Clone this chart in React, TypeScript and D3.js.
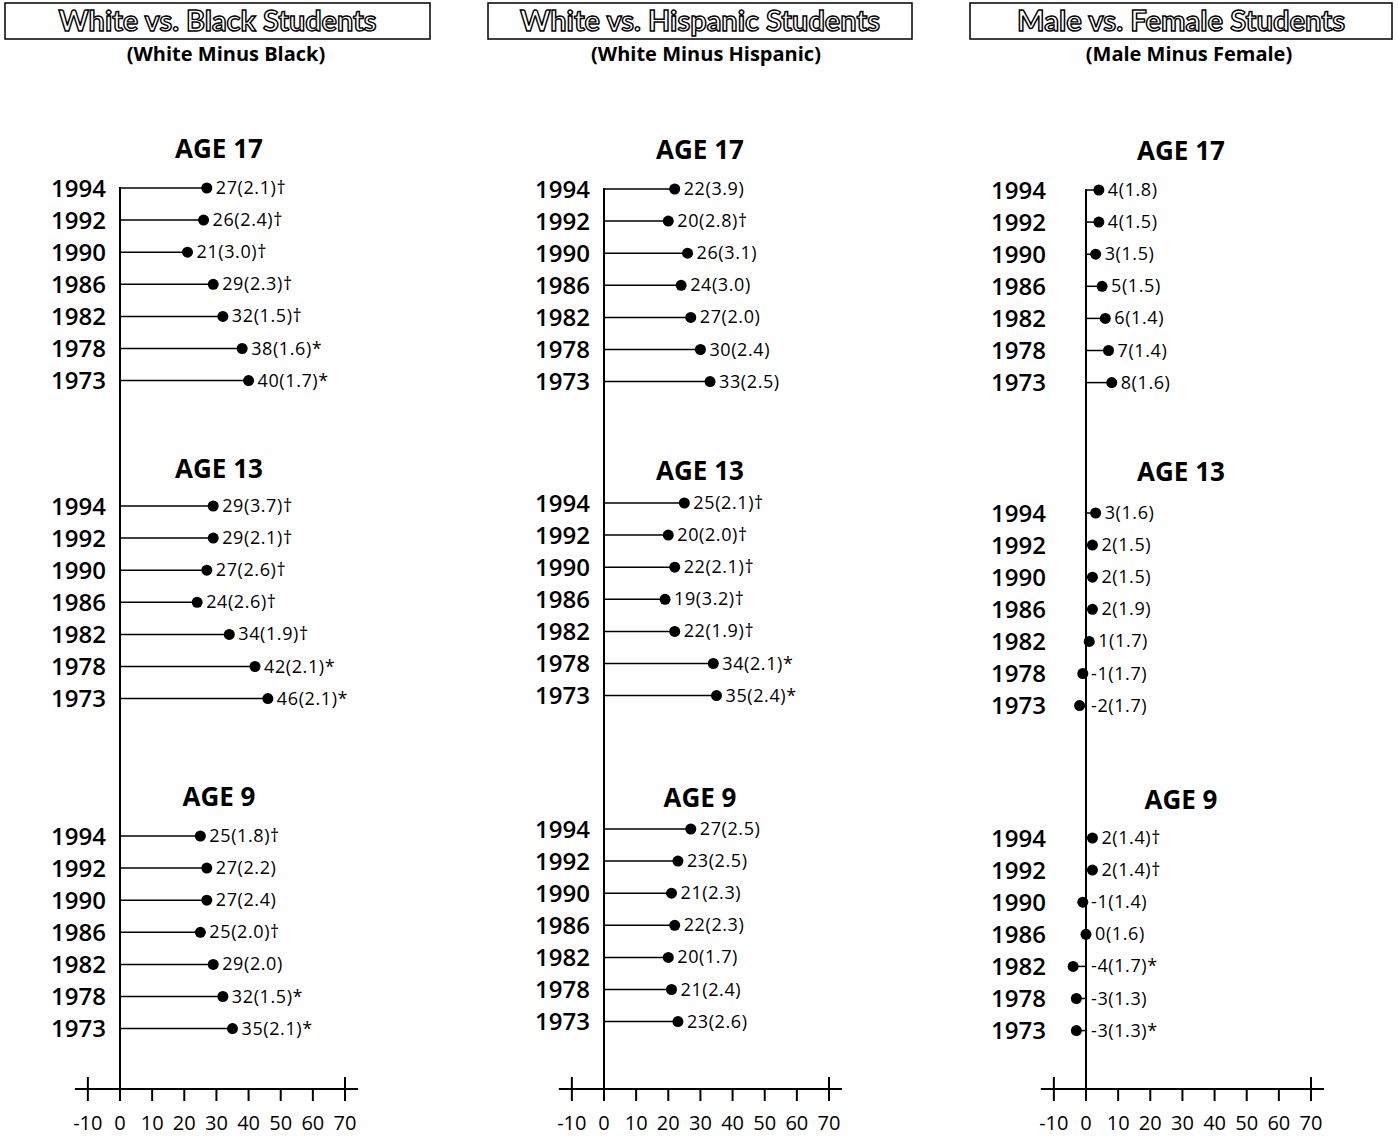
import React from "react";
import * as d3 from "d3";

const years = ["1994", "1992", "1990", "1986", "1982", "1978", "1973"];
const ageLabels = ["AGE 17", "AGE 13", "AGE 9"];
const tickValues = [-10, 0, 10, 20, 30, 40, 50, 60, 70];

const panelTitles = ["White vs. Black Students", "White vs. Hispanic Students", "Male vs. Female Students"];
const panelSubtitles = ["(White Minus Black)", "(White Minus Hispanic)", "(Male Minus Female)"];

// White minus Black: rows per age (17, 13, 9), years 1994..1973
const wbValues = [
  [27, 26, 21, 29, 32, 38, 40],
  [29, 29, 27, 24, 34, 42, 46],
  [25, 27, 27, 25, 29, 32, 35],
];
const wbSE = [
  ["2.1", "2.4", "3.0", "2.3", "1.5", "1.6", "1.7"],
  ["3.7", "2.1", "2.6", "2.6", "1.9", "2.1", "2.1"],
  ["1.8", "2.2", "2.4", "2.0", "2.0", "1.5", "2.1"],
];
const wbMarks = [
  ["†", "†", "†", "†", "†", "*", "*"],
  ["†", "†", "†", "†", "†", "*", "*"],
  ["†", "", "", "†", "", "*", "*"],
];

// White minus Hispanic
const whValues = [
  [22, 20, 26, 24, 27, 30, 33],
  [25, 20, 22, 19, 22, 34, 35],
  [27, 23, 21, 22, 20, 21, 23],
];
const whSE = [
  ["3.9", "2.8", "3.1", "3.0", "2.0", "2.4", "2.5"],
  ["2.1", "2.0", "2.1", "3.2", "1.9", "2.1", "2.4"],
  ["2.5", "2.5", "2.3", "2.3", "1.7", "2.4", "2.6"],
];
const whMarks = [
  ["", "†", "", "", "", "", ""],
  ["†", "†", "†", "†", "†", "*", "*"],
  ["", "", "", "", "", "", ""],
];

// Male minus Female
const mfValues = [
  [4, 4, 3, 5, 6, 7, 8],
  [3, 2, 2, 2, 1, -1, -2],
  [2, 2, -1, 0, -4, -3, -3],
];
const mfSE = [
  ["1.8", "1.5", "1.5", "1.5", "1.4", "1.4", "1.6"],
  ["1.6", "1.5", "1.5", "1.9", "1.7", "1.7", "1.7"],
  ["1.4", "1.4", "1.4", "1.6", "1.7", "1.3", "1.3"],
];
const mfMarks = [
  ["", "", "", "", "", "", ""],
  ["", "", "", "", "", "", ""],
  ["†", "†", "", "", "*", "", "*"],
];

const panels = [
  { values: wbValues, se: wbSE, marks: wbMarks },
  { values: whValues, se: whSE, marks: whMarks },
  { values: mfValues, se: mfSE, marks: mfMarks },
];

// layout
const layout = [
  { zero: 120, box: [5, 430], center: 219, subCenter: 226, yearRight: 106, blockTops: [188, 506, 836], ageY: [158, 478, 806] },
  { zero: 604, box: [488, 912], center: 700, subCenter: 706, yearRight: 590, blockTops: [189, 503, 829], ageY: [159, 480, 807] },
  { zero: 1086, box: [970, 1392], center: 1181, subCenter: 1189, yearRight: 1046, blockTops: [190, 513, 838], ageY: [160, 481, 809] },
];
const titleLengths = [318, 360, 328];
const rowGap = 32.1;
const axisY = 1089;
const font = "'Open Sans', 'DejaVu Sans', sans-serif";

function Panel({ idx }: { idx: number }) {
  const L = layout[idx];
  const P = panels[idx];
  const x = d3.scaleLinear().domain([0, 70]).range([L.zero, L.zero + 225]);
  const topY = L.blockTops[0] - 1;
  const cx = (L.box[0] + L.box[1]) / 2;
  return (
    <g>
      <rect x={L.box[0]} y={3} width={L.box[1] - L.box[0]} height={36} fill="white" stroke="black" strokeWidth={1.5} />
      <text
        x={cx}
        y={31}
        textAnchor="middle"
        fontFamily="'Lato', 'DejaVu Sans', sans-serif"
        fontWeight={700}
        fontSize={28}
        fill="white"
        stroke="black"
        strokeWidth={1.4}
        textLength={titleLengths[idx]}
        lengthAdjust="spacingAndGlyphs"
      >
        {panelTitles[idx]}
      </text>
      <text x={L.subCenter} y={61} textAnchor="middle" fontFamily={font} fontWeight={700} fontSize={20}>
        {panelSubtitles[idx]}
      </text>
      {ageLabels.map((a, ai) => (
        <text key={a} x={L.center} y={L.ageY[ai]} textAnchor="middle" fontFamily={font} fontWeight={700} fontSize={26}>
          {a}
        </text>
      ))}
      {P.values.map((vals, ai) =>
        vals.map((v, ri) => {
          const y = L.blockTops[ai] + ri * rowGap;
          const dx = x(v);
          const lx = x(Math.max(v, 0)) + (v < 0 ? 5 : 9);
          return (
            <g key={`${ai}-${ri}`}>
              <text x={L.yearRight} y={y + 8.5} textAnchor="end" fontFamily={font} fontWeight={600} fontSize={24}>
                {years[ri]}
              </text>
              <line x1={x(0)} x2={dx} y1={y} y2={y} stroke="black" strokeWidth={1.5} />
              <circle cx={dx} cy={y} r={5.5} fill="black" />
              <text x={lx} y={y + 6} fontFamily={font} fontSize={18} letterSpacing={0.6}>
                {`${v}(${P.se[ai][ri]})${P.marks[ai][ri]}`}
              </text>
            </g>
          );
        })
      )}
      {/* vertical zero line */}
      <line x1={x(0)} x2={x(0)} y1={topY} y2={axisY + 12} stroke="black" strokeWidth={2} />
      {/* axis */}
      <line x1={x(-10) - 13} x2={x(70) + 13} y1={axisY} y2={axisY} stroke="black" strokeWidth={2} />
      {tickValues.map((t) => (
        <g key={t}>
          <line
            x1={x(t)}
            x2={x(t)}
            y1={t === -10 || t === 70 ? axisY - 12 : axisY}
            y2={axisY + 12}
            stroke="black"
            strokeWidth={2}
          />
          <text x={x(t)} y={1130} textAnchor="middle" fontFamily={font} fontSize={20}>
            {t}
          </text>
        </g>
      ))}
    </g>
  );
}

export default function App() {
  return (
    <svg
      width={1398}
      height={1136}
      style={{ position: "absolute", left: 0, top: 0, background: "white" }}
    >
      <rect width={1398} height={1136} fill="white" />
      {[0, 1, 2].map((i) => (
        <Panel key={i} idx={i} />
      ))}
    </svg>
  );
}
